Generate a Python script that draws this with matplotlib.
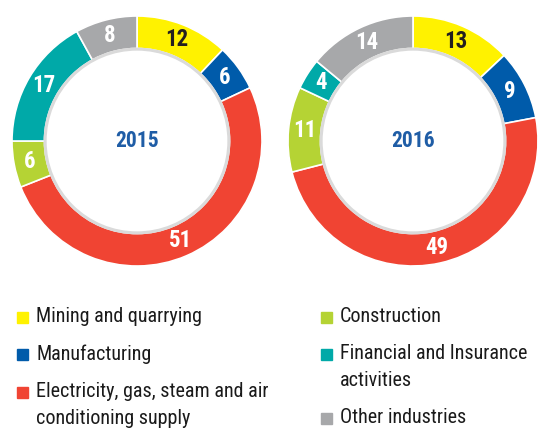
import matplotlib.pyplot as plt
from matplotlib.patches import Circle

# data
categories = ["Mining and quarrying", "Manufacturing",
              "Electricity, gas, steam and air\nconditioning supply",
              "Construction", "Financial and Insurance\nactivities", "Other industries"]
years = ["2015", "2016"]
values_2015 = [12, 6, 51, 6, 17, 8]
values_2016 = [13, 9, 49, 11, 4, 14]

colors = ["#FFF200", "#005BAA", "#F04433", "#B5D334", "#00A9A8", "#A7A8AA"]
label_colors = ["#231F20", "white", "white", "white", "white", "white"]

plt.rcParams["font.family"] = ["Roboto Condensed", "Archivo Narrow", "DejaVu Sans"]

W, H = 549, 429
fig = plt.figure(figsize=(W / 100, H / 100), dpi=100)

def donut(cx, cy, r, vals, year):
    # cx, cy, r in pixels (cy measured from top)
    ax = fig.add_axes([(cx - r) / W, (H - cy - r) / H, 2 * r / W, 2 * r / H])
    wedges, texts, autotexts = ax.pie(
        vals, colors=colors, startangle=90, counterclock=False, radius=1.0,
        wedgeprops=dict(width=0.26, edgecolor="white", linewidth=1.2),
        autopct=lambda p: f"{p:.0f}", pctdistance=0.87)
    for t, c in zip(autotexts, label_colors):
        t.set_color(c)
        t.set_fontsize(16.5)
        t.set_fontweight("bold")
    ax.add_patch(Circle((0, 0), 0.735, fill=False, edgecolor="#DADADA", linewidth=2.2))
    ax.text(0, 0, year, ha="center", va="center", fontsize=15.5,
            fontweight="bold", color="#1F5DA6")
    ax.set_xlim(-1, 1)
    ax.set_ylim(-1, 1)
    ax.set_aspect("equal")
    ax.axis("off")

donut(137, 141, 125, values_2015, years[0])
donut(413, 141, 125, values_2016, years[1])

# legend
left_x, right_x = 17 / W, 321 / W
left_rows = [(0, 317), (1, 354), (2, 392)]
right_rows = [(3, 317), (4, 354), (5, 418)]
for col_x, rows in [(left_x, left_rows), (right_x, right_rows)]:
    for i, y in rows:
        yf = (H - y) / H
        fig.patches.append(plt.Rectangle((col_x, yf - 5.5 / H), 11 / W, 11 / H,
                                         transform=fig.transFigure, color=colors[i]))
        fig.text(col_x + 19 / W, yf + 10 / H, categories[i], ha="left", va="top",
                 fontsize=14.5, color="#1A1A1A", linespacing=1.55)

fig.savefig("out.png", dpi=100)
